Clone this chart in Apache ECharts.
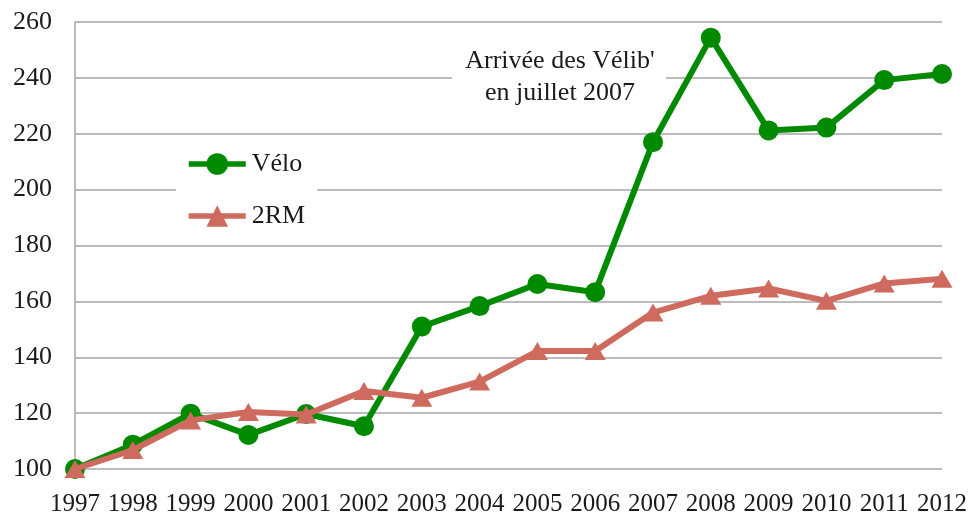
<!DOCTYPE html>
<html><head><meta charset="utf-8">
<script src="https://cdn.jsdelivr.net/npm/echarts@6/dist/echarts.min.js"></script>
<style>html,body{margin:0;padding:0;background:#fff}#c{width:969px;height:516px}</style>
</head><body><div id="c"></div>
<script>
const years = ['1997','1998','1999','2000','2001','2002','2003','2004','2005','2006','2007','2008','2009','2010','2011','2012'];
const velo = [100, 108.7, 119.8, 112.2, 119.7, 115.3, 151, 158.3, 166.2, 163.3, 217, 254.4, 221.2, 222.2, 239.2, 241.4];
const rm2 = [100, 106.8, 117.4, 120.4, 119.5, 127.9, 125.5, 131.3, 142.2, 142.2, 156, 162, 164.6, 160.2, 166.4, 168.1];
const yTicks = {min: 100, max: 260, step: 20};
const note = ["Arrivée des Vélib'", "en juillet 2007"];

const font = '"Liberation Serif", "Times New Roman", serif';
const chart = echarts.init(document.getElementById('c'));
chart.setOption({
  animation: false,
  backgroundColor: '#fff',
  grid: {left: 75, right: 27, top: 22, bottom: 47, outerBoundsMode: 'none', containLabel: false},
  xAxis: {
    type: 'category', data: years, boundaryGap: false,
    axisLine: {show: false}, axisTick: {show: false},
    axisLabel: {color: '#1a1a1a', fontFamily: font, fontSize: 25, margin: 23, lineHeight: 25, interval: 0, hideOverlap: false}
  },
  yAxis: {
    type: 'value', min: yTicks.min, max: yTicks.max, interval: yTicks.step,
    axisLine: {show: true, lineStyle: {color: '#a6a6a6', width: 1.5}}, axisTick: {show: false},
    splitLine: {lineStyle: {color: '#a6a6a6', width: 1.5}},
    axisLabel: {color: '#1a1a1a', fontFamily: font, fontSize: 26, margin: 23}
  },
  legend: {
    orient: 'vertical', left: 176, top: 142, backgroundColor: '#fff',
    padding: [8, 12, 8, 10], itemGap: 24, itemWidth: 57, itemHeight: 27,
    lineStyle: {width: 5.5},
    textStyle: {color: '#1a1a1a', fontFamily: font, fontSize: 26, lineHeight: 28, padding: [0, 0, 0, 1]},
    data: ['Vélo', '2RM']
  },
  graphic: [{
    type: 'rect', x: 452, y: 42, shape: {width: 214, height: 68}, style: {fill: '#fff'}, z: 5
  }, {
    type: 'text', z: 6, x: 560, y: 45,
    style: {text: note.join('\n'), textAlign: 'center', fill: '#1a1a1a',
      font: '26px ' + font, lineHeight: 32}
  }],
  series: [{
    name: 'Vélo', type: 'line', data: velo, symbol: 'circle', symbolSize: 20,
    lineStyle: {color: '#008a00', width: 6}, itemStyle: {color: '#008a00'}, z: 3
  }, {
    name: '2RM', type: 'line', data: rm2, symbol: 'triangle', symbolSize: [21, 18],
    lineStyle: {color: '#cf6a5e', width: 6}, itemStyle: {color: '#cf6a5e'}, z: 4
  }]
});
</script></body></html>
